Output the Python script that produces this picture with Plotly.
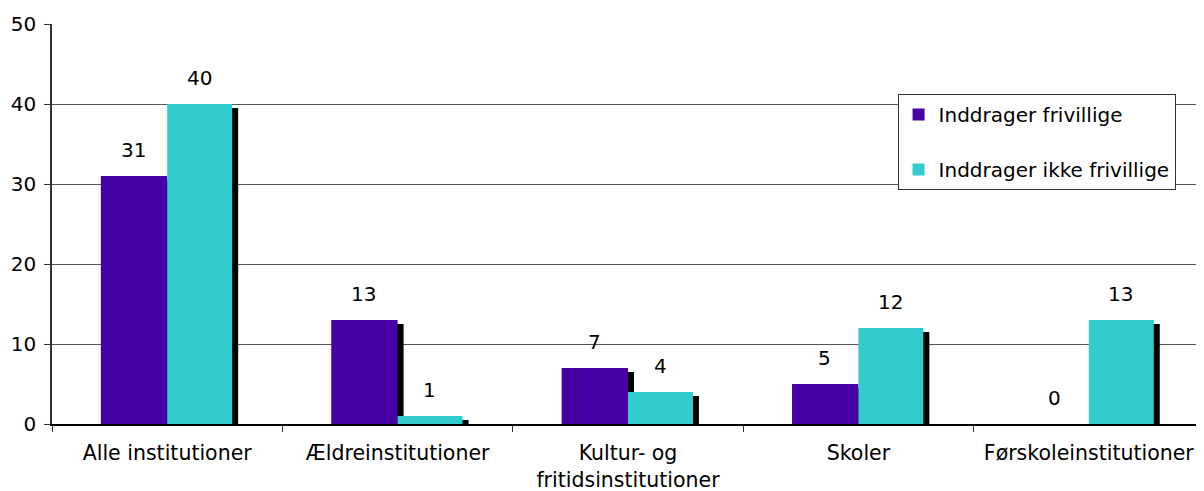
import plotly.graph_objects as go

kategorier = ["Alle institutioner", "Ældreinstitutioner", "Kultur- og<br>fritidsinstitutioner",
              "Skoler", "Førskoleinstitutioner"]
inddrager = [31, 13, 7, 5, 0]
inddrager_ikke = [40, 1, 4, 12, 13]

LILLA = "#4700a3"
TURKIS = "#33cccc"
BW = 0.288          # bar width (category units)
SKYGGE = 0.026      # shadow shift to the right
FONT = "DejaVu Sans"

fig = go.Figure()

# purple: shadow first, then bar
fig.add_trace(go.Bar(x=kategorier, y=inddrager, base=-0.5, offset=-BW + SKYGGE, width=BW,
                     marker=dict(color="black", line_width=0), showlegend=False, hoverinfo="skip"))
fig.add_trace(go.Bar(x=kategorier, y=inddrager, offset=-BW, width=BW, name="Inddrager frivillige",
                     marker=dict(color=LILLA, line_width=0), legendgroup="a"))
# cyan
fig.add_trace(go.Bar(x=kategorier, y=inddrager_ikke, base=-0.5, offset=SKYGGE, width=BW - 0.006,
                     marker=dict(color="black", line_width=0), showlegend=False, hoverinfo="skip"))
fig.add_trace(go.Bar(x=kategorier, y=inddrager_ikke, offset=0, width=BW - 0.006,
                     name="Inddrager ikke frivillige",
                     marker=dict(color=TURKIS, line_width=0), legendgroup="b"))

# value labels above the bars
for k, a, b in zip(kategorier, inddrager, inddrager_ikke):
    fig.add_annotation(x=k, y=a, text=str(a), showarrow=False, xshift=-34, yshift=26,
                       font=dict(size=20, color="black", family=FONT))
    fig.add_annotation(x=k, y=b, text=str(b), showarrow=False, xshift=32, yshift=26,
                       font=dict(size=20, color="black", family=FONT))

# page body has an 8px margin, so the figure is a bit smaller than the window
fig.update_layout(
    width=1196, height=483,
    margin=dict(l=44, r=0, t=16, b=67),
    barmode="overlay",
    plot_bgcolor="white",
    paper_bgcolor="white",
    font=dict(family=FONT, size=20, color="black"),
    legend=dict(x=0.734, y=0.825, xanchor="left", yanchor="top",
                bordercolor="#333", borderwidth=1, bgcolor="white",
                font=dict(size=20), tracegroupgap=26, traceorder="grouped"),
)
fig.update_xaxes(
    type="category", tickson="boundaries", ticks="outside", ticklen=6, tickcolor="#333",
    showline=True, linecolor="black", linewidth=1.5, showgrid=False,
    tickfont=dict(size=20.5), range=[-0.5, 4.5], automargin=False, ticklabelstandoff=10,
)
fig.update_yaxes(
    range=[0, 50], dtick=10, ticks="outside", ticklen=6, tickcolor="#333",
    showline=True, linecolor="#333", linewidth=1.5,
    showgrid=True, gridcolor="#555", gridwidth=1, zeroline=False,
    tickfont=dict(size=20), automargin=False, ticklabelstandoff=4,
)

fig.write_html("out.html")
